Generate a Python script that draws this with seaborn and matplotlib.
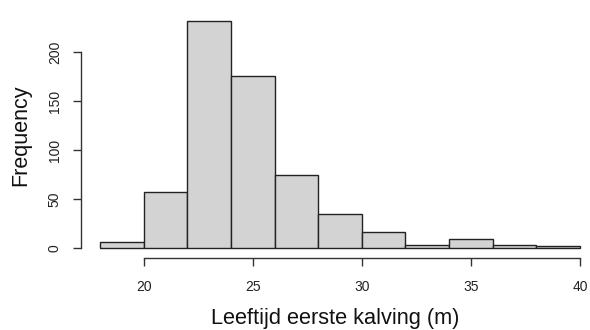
import matplotlib
matplotlib.use('Agg')
import matplotlib.pyplot as plt
import numpy as np
import pandas as pd
import seaborn as sns

# histogram leeftijd eerste kalving (maanden), bins van 2 maanden
bin_edges = [18, 20, 22, 24, 26, 28, 30, 32, 34, 36, 38, 40]
counts = [6, 57, 232, 176, 75, 35, 17, 3, 9, 3, 2]
x_ticks = [20, 25, 30, 35, 40]
y_ticks = [0, 50, 100, 150, 200]

# midden van elke bin met het aantal als gewicht
mids = [(a + b) / 2 for a, b in zip(bin_edges[:-1], bin_edges[1:])]
df = pd.DataFrame({'leeftijd': mids, 'aantal': counts})

sns.set_style('white')
plt.rcParams['font.family'] = ['Liberation Sans', 'DejaVu Sans']

fig = plt.figure(figsize=(5.9, 3.3), dpi=100)
ax = fig.add_axes([81 / 590, (330 - 258.3) / 330, (590 - 81) / 590, (258.3 - 11.8) / 330])

sns.histplot(data=df, x='leeftijd', weights='aantal', bins=bin_edges, ax=ax,
             color='#d3d3d3', alpha=1, edgecolor='#222222', linewidth=1)

ax.set_xlim(17.13, 40.46)
ax.set_ylim(-10.2, 241.3)

# assen zoals in R: los van de plot, alleen van eerste tot laatste tick
for side in ['top', 'right']:
    ax.spines[side].set_visible(False)
ax.spines['left'].set_bounds(0, 200)
ax.spines['bottom'].set_bounds(20, 40)
for side in ['left', 'bottom']:
    ax.spines[side].set_color('#333333')
    ax.spines[side].set_linewidth(1)

ax.set_xticks(x_ticks)
ax.set_yticks(y_ticks)
ax.set_yticklabels([str(v) for v in y_ticks], rotation=90, va='center')
ax.tick_params(axis='both', direction='out', length=5.8, width=1, color='#333333',
               labelsize=10, labelcolor='#222222', bottom=True, left=True)
ax.tick_params(axis='x', pad=10)
ax.tick_params(axis='y', pad=8)

ax.set_xlabel('Leeftijd eerste kalving (m)', fontsize=15.7, labelpad=10, color='#111111')
ax.set_ylabel('Frequency', fontsize=15.5, labelpad=12, color='#111111')

fig.savefig('out.png', dpi=100)
